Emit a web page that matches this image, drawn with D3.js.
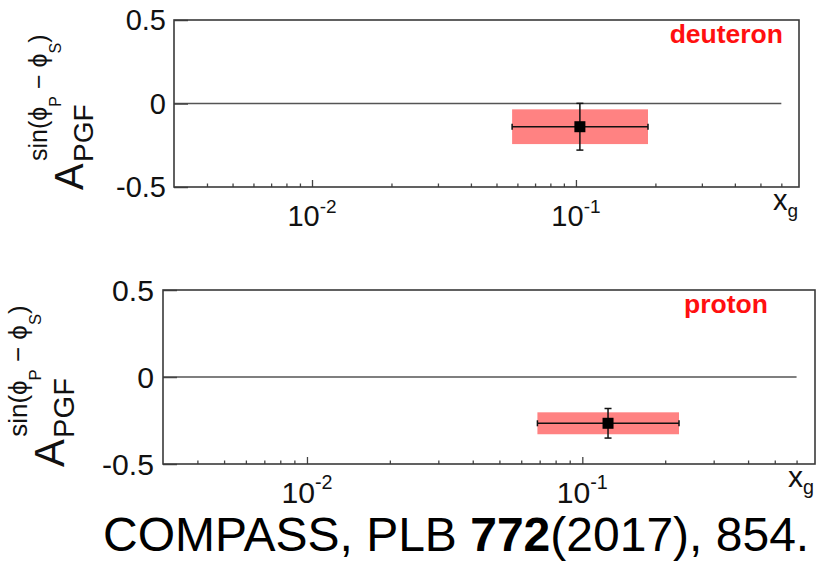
<!DOCTYPE html>
<html><head><meta charset="utf-8">
<script src="https://cdn.jsdelivr.net/npm/d3@7"></script>
<style>body{margin:0;background:#fff}svg{display:block}</style>
</head><body>
<svg id="c" width="818" height="562"></svg>
<script>
// ---- data ----
const targets = ["deuteron", "proton"];
const xgMean = [0.1035, 0.124];
const asymValue = [-0.139, -0.266];
const statErr = [0.14, 0.085];
const xgLow = [0.0573, 0.0687];
const xgHigh = [0.1875, 0.2245];
const sysErr = [0.104, 0.063];
const yTicks = [-0.5, 0, 0.5];
const yTickLabels = ["-0.5", "0", "0.5"];
const xMajorTicks = [0.01, 0.1];
const xMajorLabels = [["10", "-2"], ["10", "-1"]];
const xMinorTicks = [0.004,0.005,0.006,0.007,0.008,0.009,0.02,0.03,0.04,0.05,0.06,0.07,0.08,0.09,0.2,0.3,0.4,0.5,0.6];
const xDomain = [0.003, 0.7];
const yDomain = [-0.5, 0.5];
const zeroLineRange = [0.003, 0.6];
const caption = ["COMPASS, PLB ", "772", "(2017), 854."];

// ---- layout ----
const layout = [
  {x0:174, x1:799, y0:20, y1:187, s:1.0, lblGap:8, xlabBase:226, xgX:773, xgBase:210, tagX:783, tagBase:43, aX:83, aY:190},
  {x0:163, x1:815, y0:290, y1:464, s:1.04, lblGap:9, xlabBase:503, xgX:788, xgBase:487, tagX:768, tagBase:313, aX:64, aY:467}
];
const FONT = "'Liberation Sans', Arial, Helvetica, sans-serif";
const svg = d3.select("#c").style("font-family", FONT);

targets.forEach((name, i) => {
  const L = layout[i];
  const x = d3.scaleLog().domain(xDomain).range([L.x0, L.x1]);
  const y = d3.scaleLinear().domain(yDomain).range([L.y1, L.y0]);
  const g = svg.append("g");

  // systematic band
  g.append("rect")
    .attr("x", x(xgLow[i])).attr("width", x(xgHigh[i]) - x(xgLow[i]))
    .attr("y", y(asymValue[i] + sysErr[i])).attr("height", y(asymValue[i] - sysErr[i]) - y(asymValue[i] + sysErr[i]))
    .attr("fill", "#ff8282");

  // zero line
  g.append("line")
    .attr("x1", x(zeroLineRange[0])).attr("x2", x(zeroLineRange[1]))
    .attr("y1", y(0)).attr("y2", y(0))
    .attr("stroke", "#555").attr("stroke-width", 1.5);

  // x-axis ticks (inside)
  const axMinor = d3.axisBottom(x).tickValues(xMinorTicks).tickSize(-3.5).tickFormat("");
  const axMajor = d3.axisBottom(x).tickValues(xMajorTicks).tickSize(-7).tickFormat("");
  [axMinor, axMajor].forEach(ax => {
    const a = g.append("g").attr("transform", `translate(0,${L.y1})`).call(ax);
    a.select(".domain").remove();
    a.selectAll(".tick line").attr("stroke", "#444").attr("stroke-width", 1.3);
  });
  // y-axis ticks (inside)
  const ay = g.append("g").attr("transform", `translate(${L.x0},0)`)
    .call(d3.axisLeft(y).tickValues(yTicks).tickSize(-14).tickFormat(""));
  ay.select(".domain").remove();
  ay.selectAll(".tick line").attr("stroke", "#444").attr("stroke-width", 1.5);

  // frame
  g.append("rect").attr("x", L.x0).attr("y", L.y0)
    .attr("width", L.x1 - L.x0).attr("height", L.y1 - L.y0)
    .attr("fill", "none").attr("stroke", "#3a3a3a").attr("stroke-width", 1.6);

  // y tick labels
  yTicks.forEach((v, k) => {
    g.append("text").attr("x", L.x0 - L.lblGap).attr("y", y(v)).attr("dy", "0.36em")
      .attr("text-anchor", "end").attr("font-size", 29 * L.s).attr("fill", "#111")
      .text(yTickLabels[k]);
  });
  // x tick labels
  xMajorTicks.forEach((v, k) => {
    const t = g.append("text").attr("x", x(v)).attr("y", L.xlabBase)
      .attr("text-anchor", "middle").attr("fill", "#111");
    t.append("tspan").attr("font-size", 29 * L.s).text(xMajorLabels[k][0]);
    t.append("tspan").attr("font-size", 19 * L.s).attr("dy", -13 * L.s).text(xMajorLabels[k][1]);
  });
  // x_g title
  const xt = g.append("text").attr("x", L.xgX).attr("y", L.xgBase).attr("fill", "#111");
  xt.append("tspan").attr("font-size", 29 * L.s).text("x");
  xt.append("tspan").attr("font-size", 19 * L.s).attr("dy", 7 * L.s).text("g");

  // y title: A_PGF^{sin(phi_P - phi_S)}
  const yt = g.append("g").attr("transform", `translate(${L.aX},${L.aY}) rotate(-90)`).attr("fill", "#111");
  yt.append("text").attr("x", 0).attr("y", 0).attr("font-size", 40 * L.s).text("A");
  yt.append("text").attr("x", 28 * L.s).attr("y", 10 * L.s).attr("font-size", 28 * L.s).text("PGF");
  const sup = yt.append("text").attr("x", 29 * L.s).attr("y", -36 * L.s).attr("font-size", 25 * L.s);
  sup.append("tspan").text("sin(\u03D5");
  sup.append("tspan").attr("font-size", 16 * L.s).attr("dy", 14 * L.s).text("P");
  sup.append("tspan").attr("dy", -14 * L.s).text(" \u2212 \u03D5");
  sup.append("tspan").attr("font-size", 16 * L.s).attr("dy", 14 * L.s).text("S");
  sup.append("tspan").attr("dy", -14 * L.s).text(")");

  // target tag
  g.append("text").attr("x", L.tagX).attr("y", L.tagBase).attr("text-anchor", "end")
    .attr("font-size", 26.5).attr("font-weight", "bold").attr("fill", "#ff1010").text(name);

  // stat error bars
  const cx = x(xgMean[i]), cy = y(asymValue[i]);
  const eb = g.append("g").attr("stroke", "#111").attr("stroke-width", 1.5);
  eb.append("line").attr("x1", x(xgLow[i])).attr("x2", x(xgHigh[i])).attr("y1", cy).attr("y2", cy);
  eb.append("line").attr("x1", cx).attr("x2", cx).attr("y1", y(asymValue[i] + statErr[i])).attr("y2", y(asymValue[i] - statErr[i]));
  [asymValue[i] + statErr[i], asymValue[i] - statErr[i]].forEach(v => {
    eb.append("line").attr("x1", cx - 3.5).attr("x2", cx + 3.5).attr("y1", y(v)).attr("y2", y(v));
  });
  [xgLow[i], xgHigh[i]].forEach(v => {
    eb.append("line").attr("x1", x(v)).attr("x2", x(v)).attr("y1", cy - 3).attr("y2", cy + 3);
  });
  g.append("rect").attr("x", cx - 5.5).attr("y", cy - 5.5).attr("width", 11).attr("height", 11).attr("fill", "#000");
});

// caption
const cap = svg.append("text").attr("x", 103).attr("y", 551).attr("font-size", 48).attr("fill", "#000");
cap.append("tspan").text(caption[0]);
cap.append("tspan").attr("font-weight", "bold").text(caption[1]);
cap.append("tspan").text(caption[2]);
</script>
</body></html>
